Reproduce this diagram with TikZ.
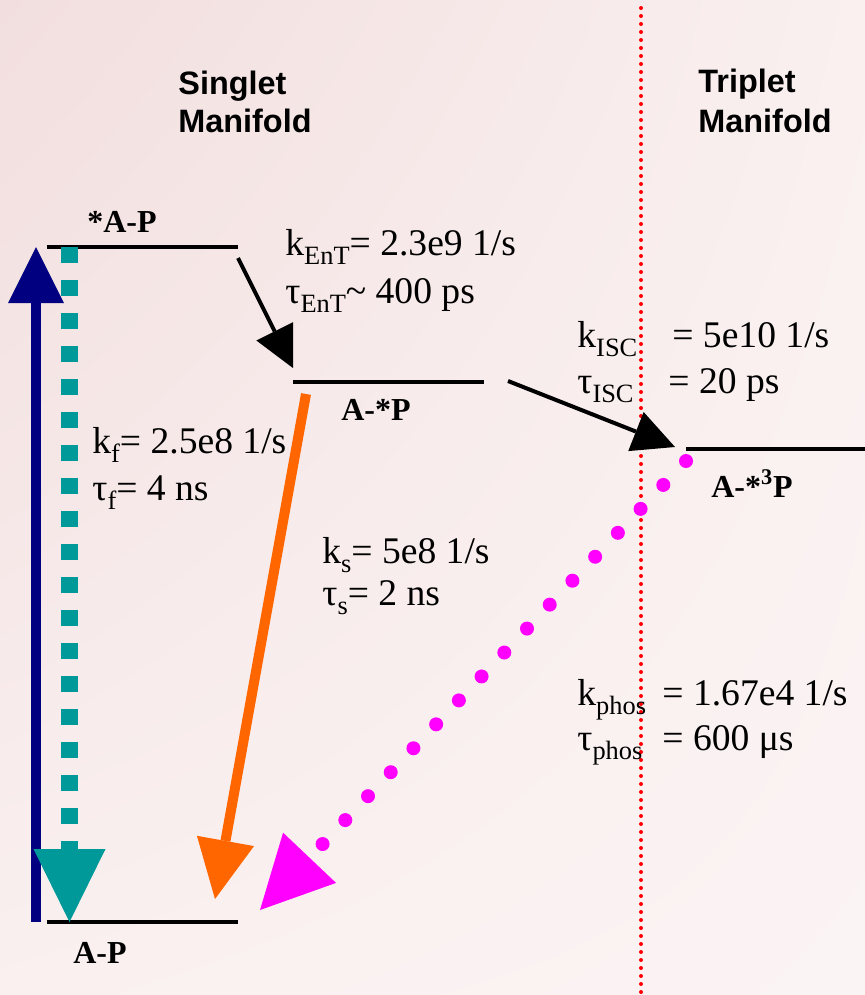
\documentclass[tikz,border=0pt]{standalone}
\usepackage{fontspec}
\setmainfont{Liberation Serif}
\setsansfont{Liberation Sans}
\usepackage{tikz}
\usetikzlibrary{arrows.meta,shadings}
\definecolor{rosaBg}{RGB}{242,222,222}
\definecolor{rosaMid}{RGB}{250,240,240}
\definecolor{rosaEnd}{RGB}{251,244,244}
\definecolor{navyAbs}{RGB}{0,0,128}
\definecolor{tealFl}{RGB}{0,153,153}
\definecolor{naranjaS}{RGB}{255,102,0}
\definecolor{magentaPh}{RGB}{255,0,255}
\definecolor{rojoSep}{RGB}{255,0,0}
\newcommand{\sbs}[1]{\raisebox{-0.24em}{\fontsize{13.2}{14}\selectfont #1}}
\tikzset{
  level/.style={line width=2pt, black},
  lvllabel/.style={anchor=base, font=\fontsize{16}{19}\selectfont\bfseries},
  rate/.style={anchor=base west, inner sep=0pt, font=\fontsize{18.8}{22}\selectfont},
  manifold/.style={anchor=base west, inner sep=0pt, font=\sffamily\bfseries\fontsize{16.2}{19}\selectfont},
  bigtip/.style 2 args={-{Triangle[length=#1,width=#2,line width=0pt]}}
}

\begin{document}
\begin{tikzpicture}[x=0.5pt,y=-0.5pt]
  % Background
  \useasboundingbox (0,0) rectangle (865,995);
  \shade[upper left=rosaBg, upper right=rosaMid, lower left=rosaMid, lower right=rosaEnd]
    (0,0) rectangle (865,995);
  % Singlet / triplet separation
  \draw[rojoSep, line width=2pt, dash pattern=on 0pt off 4pt, line cap=round]
    (641,8) -- (641,995);
  \node[manifold] (singA) at (178,95) {Singlet};
  \node[manifold] (singB) at (178,133) {Manifold};
  \node[manifold] (tripA) at (698,93) {Triplet};
  \node[manifold] (tripB) at (698,133) {Manifold};
  % Levels
  \coordinate (exL) at (47,247);  \coordinate (exR) at (238,247);
  \coordinate (ctL) at (293,382); \coordinate (ctR) at (484,382);
  \coordinate (trL) at (686,449); \coordinate (trR) at (865,449);
  \coordinate (gsL) at (47,922);  \coordinate (gsR) at (238,922);
  \draw[level] (exL) -- (exR);
  \draw[level] (ctL) -- (ctR);
  \draw[level] (trL) -- (trR);
  \draw[level] (gsL) -- (gsR);
  \node[lvllabel] (exLab) at (122,232) {*A-P};
  \node[lvllabel] (ctLab) at (376,420) {A-*P};
  \node[lvllabel] (trLab) at (752,497) {A-*\textsuperscript{3}P};
  \node[lvllabel] (gsLab) at (100,963) {A-P};
  % Absorption and fluorescence
  \coordinate (absBot) at (36,922);   \coordinate (absTop) at (36,247);
  \coordinate (flTop) at (69.5,247);  \coordinate (flBot) at (69.5,922);
  \draw[navyAbs, line width=5pt, bigtip={28pt}{28pt}] (absBot) -- (absTop);
  \draw[tealFl, line width=8.5pt, dash pattern=on 8pt off 8.5pt, bigtip={36.5pt}{36pt}]
    (flTop) -- (flBot);
  \node[rate] (kf) at (92,453) {k\sbs{f}= 2.5e8 1/s};
  \node[rate] (tf) at (92,500) {τ\sbs{f}= 4 ns};
  % Energy transfer
  \coordinate (entA) at (238,258); \coordinate (entB) at (293,368);
  \draw[line width=2pt, bigtip={20.5pt}{20.5pt}] (entA) -- (entB);
  \node[rate] (kent) at (285,255) {k\sbs{EnT}= 2.3e9 1/s};
  \node[rate] (tent) at (285,303) {τ\sbs{EnT}\textasciitilde{} 400 ps};
  % Intersystem crossing
  \coordinate (iscA) at (508,381); \coordinate (iscB) at (675,447);
  \draw[line width=2pt, bigtip={21pt}{21pt}] (iscA) -- (iscB);
  \node[rate] (kisc) at (577,347) {\makebox[47.5pt][l]{k\sbs{ISC}}= 5e10 1/s};
  \node[rate] (tisc) at (577,393) {\makebox[45.5pt][l]{τ\sbs{ISC}}= 20 ps};
  % Singlet decay
  \coordinate (sdA) at (306,394); \coordinate (sdB) at (215,899);
  \draw[naranjaS, line width=5pt, bigtip={29.5pt}{29pt}] (sdA) -- (sdB);
  \node[rate] (ks) at (322,563) {k\sbs{s}= 5e8 1/s};
  \node[rate] (ts) at (322,605) {τ\sbs{s}= 2 ns};
  % Phosphorescence
  \coordinate (phA) at (686,461); \coordinate (phB) at (260,910);
  \draw[magentaPh, line width=7pt, line cap=round, dash pattern=on 0pt off 16.5pt,
    bigtip={36pt}{36.5pt}] (phA) -- (phB);
  \node[rate] (kph) at (577,705) {\makebox[42.5pt][l]{k\sbs{phos}}= 1.67e4 1/s};
  \node[rate] (tph) at (577,750) {\makebox[42.5pt][l]{τ\sbs{phos}}= 600 μs};
\end{tikzpicture}
\end{document}
